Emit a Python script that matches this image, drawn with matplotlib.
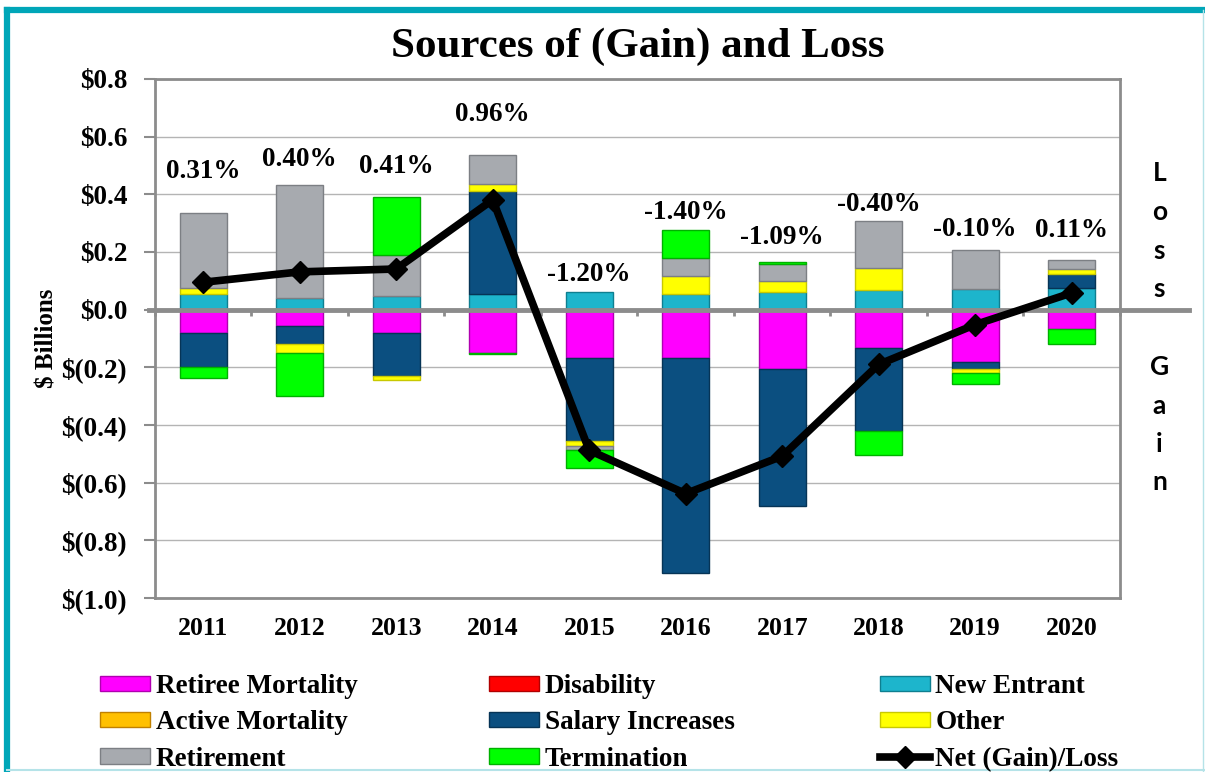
import matplotlib
import numpy as np

matplotlib.use("Agg")
from matplotlib import pyplot as plt
from matplotlib.lines import Line2D
from matplotlib.patches import Patch

# ($ billions) by plan year; positive = loss, negative = gain
years = ["2011", "2012", "2013", "2014", "2015",
         "2016", "2017", "2018", "2019", "2020"]
retiree_mortality = [-0.080, -0.058, -0.080, -0.150, -0.167,
                     -0.167, -0.205, -0.133, -0.183, -0.067]
disability = [0.0, 0.0, 0.0, 0.0, 0.0, 0.0, 0.0, 0.0, 0.0, 0.0]
new_entrant = [0.054, 0.040, 0.046, 0.055, 0.060,
               0.055, 0.060, 0.068, 0.072, 0.075]
active_mortality = [0.0, 0.0, 0.0, 0.0, 0.0, 0.0, 0.0, 0.0, 0.0, 0.0]
salary_increases = [-0.120, -0.060, -0.150, 0.355, -0.289,
                    -0.746, -0.477, -0.289, -0.022, 0.050]
other = [0.021, -0.032, -0.015, 0.026, -0.018,
         0.062, 0.040, 0.078, -0.015, 0.015]
retirement = [0.260, 0.393, 0.145, 0.099, -0.014,
              0.063, 0.058, 0.160, 0.136, 0.032]
termination = [-0.037, -0.150, 0.200, -0.003, -0.061,
               0.095, 0.008, -0.081, -0.037, -0.051]
net_gain_loss = [0.095, 0.131, 0.141, 0.381, -0.488,
                 -0.638, -0.508, -0.190, -0.052, 0.058]
pct_labels = ["0.31%", "0.40%", "0.41%", "0.96%", "-1.20%",
              "-1.40%", "-1.09%", "-0.40%", "-0.10%", "0.11%"]

# gap between the top of each stack and its percent label
pct_gap = [0.143, 0.087, 0.107, 0.141, 0.061,
           0.061, 0.083, 0.058, 0.069, 0.104]

series = [
    ("Retiree Mortality", retiree_mortality, "#FF00FF", "#B000B0"),
    ("Disability", disability, "#FF0000", "#B00000"),
    ("New Entrant", new_entrant, "#1DB5CC", "#0E7F90"),
    ("Active Mortality", active_mortality, "#FFC000", "#C08000"),
    ("Salary Increases", salary_increases, "#0B4F80", "#063456"),
    ("Other", other, "#FFFF00", "#C8C800"),
    ("Retirement", retirement, "#A7AAAF", "#7C7F84"),
    ("Termination", termination, "#00FF00", "#00B000"),
]

serif = ["Liberation Serif", "DejaVu Serif"]
plt.rcParams["font.family"] = serif
plt.rcParams["font.weight"] = "bold"

fig = plt.figure(figsize=(12.05, 7.72), dpi=100)
ax = fig.add_axes([0.1286, 0.2254, 0.8008, 0.6723])

x = np.arange(len(years))
pos_base = np.zeros(len(years))
neg_base = np.zeros(len(years))
handles = {}
for name, values, color, edge in series:
    v = np.array(values)
    pos = np.where(v > 0, v, 0.0)
    neg = np.where(v < 0, v, 0.0)
    up = v > 0
    down = v < 0
    ax.bar(x[up], pos[up], 0.49, bottom=pos_base[up], color=color,
           edgecolor=edge, linewidth=1.0, zorder=3)
    ax.bar(x[down], neg[down], 0.49, bottom=neg_base[down], color=color,
           edgecolor=edge, linewidth=1.0, zorder=3)
    pos_base += pos
    neg_base += neg
    handles[name] = Patch(facecolor=color, edgecolor=edge, linewidth=1.0)

ax.plot(x, net_gain_loss, color="black", lw=5.5, marker="D",
        markersize=11, zorder=5)
handles["Net (Gain)/Loss"] = Line2D([], [], color="black", lw=5.5,
                                    marker="D", markersize=11)

for i, label in enumerate(pct_labels):
    ax.text(x[i], pos_base[i] + pct_gap[i], label, ha="center", va="center",
            fontsize=19.5, fontweight="bold", zorder=6)

ax.set_xlim(-0.5, len(years) - 0.5)
ax.set_ylim(-1.0, 0.8)
ticks = np.round(np.arange(-1.0, 0.81, 0.2), 1) + 0.0
ax.set_yticks(ticks)
ax.set_yticklabels(["$%.1f" % abs(t) if t > -0.05 else "$(%.1f)" % -t
                    for t in ticks], fontsize=19.5, fontweight="bold")
ax.set_xticks(x)
ax.set_xticklabels(years, fontsize=18.5, fontweight="bold")
ax.tick_params(axis="x", length=0, pad=14)
ax.tick_params(axis="y", length=8, width=1.5, color="#8C8C8C", pad=12)
ax.grid(axis="y", color="#B4B4B4", lw=1.0, zorder=0)
for side in ax.spines.values():
    side.set_color("#8C8C8C")
    side.set_linewidth(2)

# zero line runs past the plot frame toward the Loss / Gain captions
ax.axhline(0, xmin=-0.006, xmax=1.072, color="#8C8C8C", lw=3.5,
           clip_on=False, zorder=4)
ax.vlines(np.arange(-0.5, len(years)), -0.022, 0, color="#8C8C8C",
          lw=2, zorder=4, clip_on=False)

ax.set_ylabel("$ Billions", fontsize=18, fontweight="bold", labelpad=2)
ax.set_title("Sources of (Gain) and Loss", fontsize=31, fontweight="bold",
             pad=16)

sans = ["Lato", "DejaVu Sans"]
for i, ch in enumerate("Loss"):
    ax.text(1.041, 0.475 - 0.135 * i, ch, transform=ax.get_yaxis_transform(),
            ha="center", va="center", fontsize=19, fontweight="bold",
            family=sans)
for i, ch in enumerate("Gain"):
    ax.text(1.041, -0.20 - 0.133 * i, ch, transform=ax.get_yaxis_transform(),
            ha="center", va="center", fontsize=19, fontweight="bold",
            family=sans)

columns = [
    ["Retiree Mortality", "Active Mortality", "Retirement"],
    ["Disability", "Salary Increases", "Termination"],
    ["New Entrant", "Other", "Net (Gain)/Loss"],
]
for col, x0 in zip(columns, [0.083, 0.406, 0.730]):
    fig.legend([handles[n] for n in col], col, loc="upper left",
               bbox_to_anchor=(x0, 0.127), frameon=False, ncol=1,
               prop={"family": serif, "weight": "bold", "size": 19.5},
               handlelength=1.85, handleheight=0.5, handletextpad=0.2,
               labelspacing=0.42, borderpad=0.0, borderaxespad=0.0)

teal = "#00A6B8"
fig.add_artist(Line2D([0.0058, 1.0], [0.9864, 0.9864],
                      transform=fig.transFigure, color=teal, lw=4.5))
fig.add_artist(Line2D([0.0058, 0.0058], [0.0, 0.9864],
                      transform=fig.transFigure, color=teal, lw=4.5))
fig.add_artist(Line2D([0.9985, 0.9985], [0.0, 0.9864],
                      transform=fig.transFigure, color="#B5E3E8", lw=1))
fig.add_artist(Line2D([0.0058, 1.0], [0.0026, 0.0026],
                      transform=fig.transFigure, color="#B5E3E8", lw=1.5))

fig.savefig("out.png", dpi=100)
plt.close(fig)
